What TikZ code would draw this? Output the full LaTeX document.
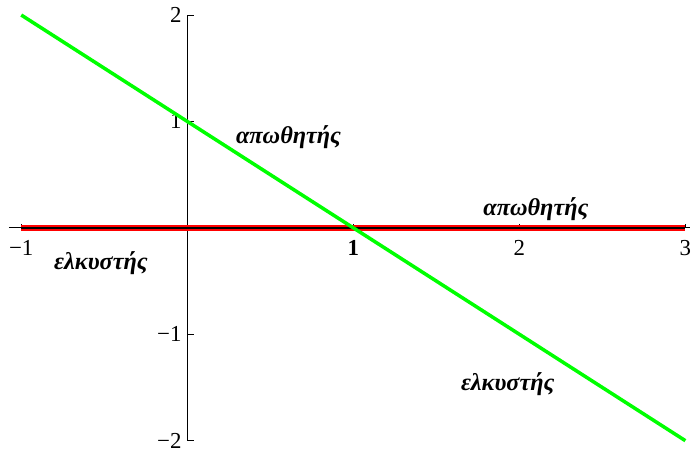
\documentclass[tikz,border=0pt]{standalone}
\usepackage{fontspec}
\setmainfont{Liberation Serif}
\usetikzlibrary{positioning}

\begin{document}
\begin{tikzpicture}[
    x=3.32cm, y=2.128cm,
    axis/.style={draw, line width=0.5pt},
    ticklbl/.style={inner sep=0pt, font=\fontsize{13}{15}\selectfont},
    region/.style={inner sep=0pt, font=\fontsize{13.8}{16}\selectfont\bfseries\itshape},
    map/.style={draw=green, line width=2pt},
    fixed/.style={draw=red, line width=1.1pt}
  ]
  \useasboundingbox (-1.128,-2.107) rectangle (3.034,2.141);

  % Axes
  \coordinate (xl) at (-1.074,0);
  \coordinate (xr) at (3.03,0);
  \coordinate (yt) at (0,2);
  \coordinate (yb) at (0,-2);
  \draw[axis] (xl) -- (xr);
  \draw[axis] (yt) -- (yb);
  \foreach \v/\t in {-1/−1, 1/\textbf{1}, 2/2, 3/3} {
    \coordinate (xt\v) at (\v,0);
    \draw[axis] (xt\v) -- ++(0,0.08cm);
    \node[ticklbl, below=0.24cm of xt\v] (xn\v) {\t};
  }
  \foreach \v/\t in {-2/−2, -1/−1, 1/1, 2/2} {
    \coordinate (yt\v) at (0,\v);
    \draw[axis] (yt\v) -- ++(0.14cm,0);
    \node[ticklbl, left=0.11cm of yt\v] (yn\v) {\t};
  }

  % Lines
  \coordinate (f0) at (-1,0);
  \coordinate (f1) at (3,0);
  \draw[line width=1pt] (f0) -- (f1);
  \draw[fixed, transform canvas={yshift=1.1pt}] (f0) -- (f1);
  \draw[fixed, transform canvas={yshift=-1.1pt}] (f0) -- (f1);
  \coordinate (g0) at (-1,2);
  \coordinate (g1) at (3,-2);
  \draw[map] (g0) -- (g1);

  % Labels
  \node[region] (rep1) at (0.61,0.853) {απωθητής};
  \node[region] (rep2) at (2.10,0.177) {απωθητής};
  \node[region] (att1) at (-0.52,-0.331) {ελκυστής};
  \node[region] (att2) at (1.93,-1.468) {ελκυστής};
\end{tikzpicture}
\end{document}
